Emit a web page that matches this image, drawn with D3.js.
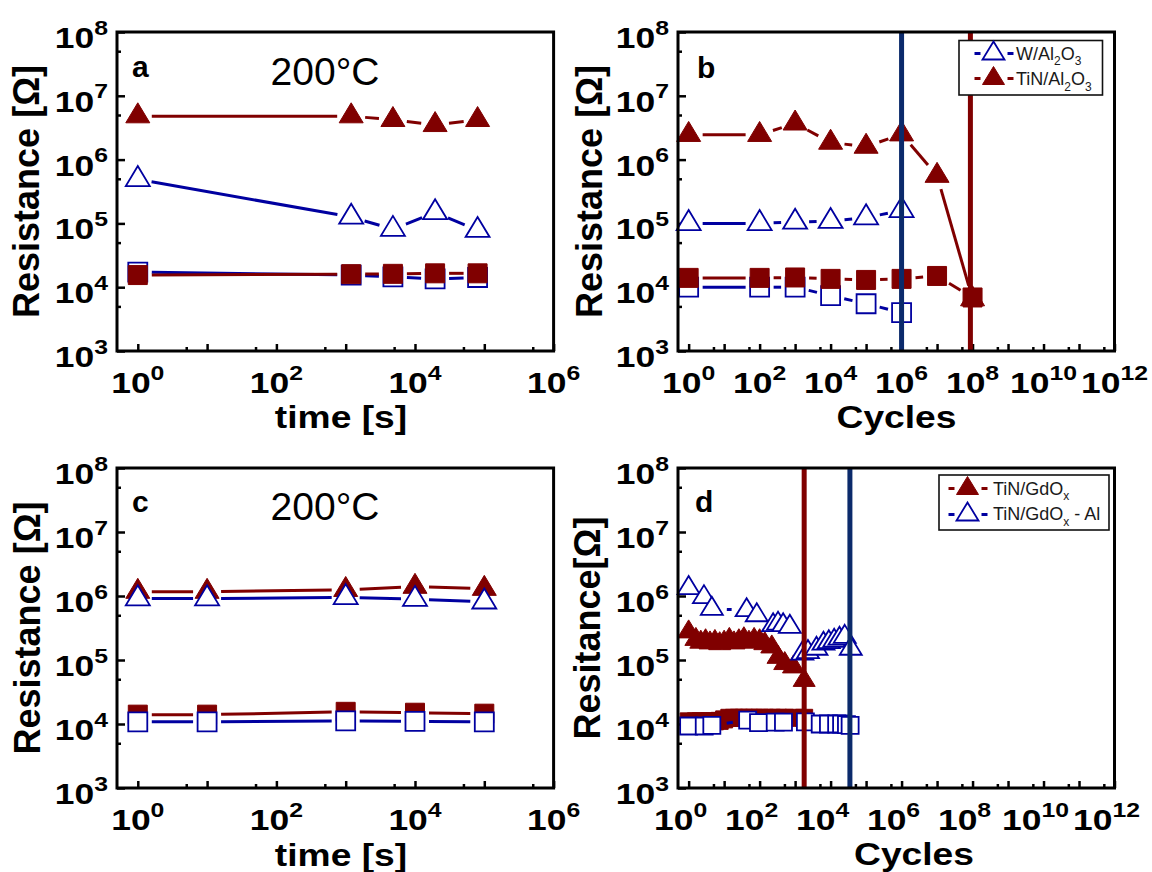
<!DOCTYPE html>
<html><head><meta charset="utf-8">
<script src="https://cdn.jsdelivr.net/npm/d3@7"></script>
<style>body{margin:0;background:#fff} svg{display:block} text{font-family:"Liberation Sans",Arial,sans-serif;}</style>
</head><body>
<svg id="chart" width="1152" height="872"></svg>
<script>
// ---------- DATA ----------
// panel a : retention at 200°C (time in s)
const aTime    = [1, 1200, 4800, 19500, 80000];
const aW_HRS   = [4.9e5, 1.26e5, 8.1e4, 1.48e5, 7.8e4];
const aW_LRS   = [1.72e4, 1.55e4, 1.45e4, 1.35e4, 1.42e4];
const aTiN_HRS = [4.8e6, 4.8e6, 4.2e6, 3.5e6, 4.2e6];
const aTiN_LRS = [1.55e4, 1.6e4, 1.62e4, 1.65e4, 1.65e4];
// panel b : endurance
const bW_Cycles   = [1, 1e2, 1e3, 1e4, 1e5, 1e6];
const bW_HRS      = [1.0e5, 1.0e5, 1.05e5, 1.08e5, 1.23e5, 1.6e5];
const bW_LRS      = [1.0e4, 1.0e4, 1.0e4, 7.4e3, 5.5e3, 4.0e3];
const bTiN_Cycles = [1, 1e2, 1e3, 1e4, 1e5, 1e6, 1e7, 1e8];
const bTiN_HRS    = [2.45e6, 2.45e6, 3.7e6, 1.85e6, 1.6e6, 2.5e6, 5.6e5, 6.5e3];
const bTiN_LRS    = [1.4e4, 1.4e4, 1.42e4, 1.35e4, 1.3e4, 1.35e4, 1.5e4, 6.9e3];
const bFail_W = 1e6, bFail_TiN = 8.7e7;
// panel c : retention at 200°C
const cTime    = [1, 10, 1000, 1e4, 1e5];
const cTiN_HRS = [1.17e6, 1.17e6, 1.25e6, 1.4e6, 1.3e6];
const cTiN_LRS = [1.4e4, 1.4e4, 1.55e4, 1.5e4, 1.45e4];
const cW_HRS   = [9.1e5, 9.1e5, 9.5e5, 8.9e5, 8.1e5];
const cW_LRS   = [1.08e4, 1.08e4, 1.12e4, 1.1e4, 1.08e4];
// panel d : endurance GdOx
const dTiN_Cycles = [1, 1.6, 2.2, 3, 4, 5.5, 7.5, 10, 14, 19, 26, 36, 50, 70, 100, 140, 220, 330, 510, 900, 1800];
const dTiN_HRS    = [2.75e5, 2.1e5, 1.9e5, 2.0e5, 1.85e5, 1.95e5, 1.8e5, 1.9e5, 2.1e5, 1.85e5, 2.0e5, 2.15e5, 1.9e5, 2.1e5, 2.0e5, 1.8e5, 1.6e5, 1.1e5, 8.8e4, 7.8e4, 4.8e4];
const dTiN_LRS    = [1.1e4, 1.1e4, 1.1e4, 1.1e4, 1.1e4, 1.1e4, 1.12e4, 1.18e4, 1.25e4, 1.25e4, 1.25e4, 1.25e4, 1.25e4, 1.25e4, 1.25e4, 1.25e4, 1.25e4, 1.25e4, 1.25e4, 1.25e4, 1.25e4];
const dAl_TriCycles = [1, 2.7, 4.5, 43, 83, 240, 330, 460, 710, 1600, 2300, 4000, 6300, 8900, 12600, 17800, 25000, 37000];
const dAl_HRS       = [1.33e6, 9.6e5, 6.3e5, 6.0e5, 5.0e5, 3.5e5, 3.7e5, 3.5e5, 3.3e5, 1.26e5, 1.33e5, 1.5e5, 1.8e5, 1.9e5, 2.0e5, 2.15e5, 2.3e5, 1.5e5];
const dAl_SqCycles  = [1, 2.75, 4.5, 46, 93, 275, 470, 1950, 5100, 8700, 14800, 20400, 28000, 35500];
const dAl_LRS       = [9.3e3, 9.3e3, 9.5e3, 1.15e4, 1.05e4, 1.07e4, 1.07e4, 1.08e4, 1.0e4, 1.0e4, 1.0e4, 1.0e4, 9.8e3, 9.5e3];
const dFail_TiN = 1800, dFail_Al = 35000;
// tick labels (exponents)
const timeTickExp  = [0, 2, 4, 6];
const cycleTickExp = [0, 2, 4, 6, 8, 10, 12];
const resTickExp   = [3, 4, 5, 6, 7, 8];

// ---------- DRAWING ----------
const RED = '#800000', BLUE = '#0000a0', NAVY = '#0b2a6b';
const svg = d3.select('#chart');

function makePanel(cfg) {
  const x = d3.scaleLog().domain([Math.pow(10, -0.3), Math.pow(10, cfg.maxExp)]).range([cfg.left, cfg.right]);
  const y = d3.scaleLog().domain([1e3, 1e8]).range([cfg.bottom, cfg.top]);
  const g = svg.append('g');
  const P = {x, y, g, cfg};
  const xMajor = d3.range(0, cfg.maxExp + 1).map(e => Math.pow(10, e));
  const xMinor = d3.range(0, cfg.maxExp).map(e => 5 * Math.pow(10, e));
  const yMajor = d3.range(3, 9).map(e => Math.pow(10, e));
  const yMinor = d3.range(3, 8).map(e => 5 * Math.pow(10, e));
  const style = s => s.call(a => a.select('.domain').remove())
    .call(a => a.selectAll('line').attr('stroke', '#000').attr('stroke-width', 2.5));
  g.append('g').attr('transform', `translate(0,${cfg.bottom})`)
    .call(d3.axisBottom(x).tickValues(xMajor).tickSize(-7).tickFormat('')).call(style);
  g.append('g').attr('transform', `translate(0,${cfg.bottom})`)
    .call(d3.axisBottom(x).tickValues(xMinor).tickSize(-4).tickFormat('')).call(style);
  g.append('g').attr('transform', `translate(${cfg.left},0)`)
    .call(d3.axisLeft(y).tickValues(yMajor).tickSize(-8).tickFormat('')).call(style);
  g.append('g').attr('transform', `translate(${cfg.left},0)`)
    .call(d3.axisLeft(y).tickValues(yMinor).tickSize(-4).tickFormat('')).call(style);
  cfg.xExp.forEach(e => expLabel(g, x(Math.pow(10, e)) + (cfg.xLabShift || 0), cfg.bottom + 42, e, 'middle'));
  resTickExp.forEach(e => expLabel(g, cfg.left - 9, y(Math.pow(10, e)) + 16, e, 'end'));
  g.append('text').attr('transform', `translate(${cfg.xTitleX},${cfg.xTitleY}) scale(1.2,1)`)
    .attr('text-anchor', 'middle').attr('font-weight', 'bold').attr('font-size', 31).text(cfg.xTitle);
  g.append('text').attr('transform', `translate(${cfg.yTitleX},${(cfg.top + cfg.bottom) / 2}) rotate(-90)`)
    .attr('text-anchor', 'middle').attr('font-weight', 'bold').attr('font-size', 36).text(cfg.yTitle);
  g.append('text').attr('x', cfg.letterX).attr('y', cfg.letterY).attr('font-weight', 'bold')
    .attr('font-size', 30).text(cfg.letter);
  if (cfg.temp) g.append('text').attr('x', cfg.tempX).attr('y', cfg.tempY).attr('text-anchor', 'middle')
    .attr('font-size', 39).text(cfg.temp);
  return P;
}

function expLabel(g, x, y, e, anchor) {
  const t = g.append('text').attr('transform', `translate(${x},${y}) scale(1.18,1)`)
    .attr('text-anchor', anchor).attr('font-weight', 'bold').attr('font-size', 30).attr('fill', '#000');
  t.append('tspan').text('10');
  t.append('tspan').attr('font-size', 21).attr('dy', -13.5).text(e);
}

function triPath(w, h) { return `M0,${-2 * h / 3}L${w / 2},${h / 3}L${-w / 2},${h / 3}Z`; }
function sqPath(s) { return `M${-s / 2},${-s / 2}h${s}v${s}h${-s}Z`; }

function drawSeries(P, xs, ys, st) {
  const pts = xs.map((v, i) => [P.x(v), P.y(ys[i])]);
  const segs = [];
  for (let i = 0; i < pts.length - 1; i++) {
    const [x1, y1] = pts[i], [x2, y2] = pts[i + 1];
    const L = Math.hypot(x2 - x1, y2 - y1);
    if (L > 2 * st.gap + 1) {
      const ux = (x2 - x1) / L, uy = (y2 - y1) / L;
      segs.push([[x1 + ux * st.gap, y1 + uy * st.gap], [x2 - ux * st.gap, y2 - uy * st.gap]]);
    }
  }
  const line = d3.line();
  P.g.append('g').selectAll('path').data(segs).join('path').attr('d', d => line(d))
    .attr('stroke', st.color).attr('stroke-width', 3).attr('fill', 'none');
  P.g.append('g').selectAll('path').data(pts).join('path')
    .attr('transform', d => `translate(${d[0]},${d[1]})`)
    .attr('d', st.shape === 'tri' ? triPath(st.w, st.h) : sqPath(st.s))
    .attr('fill', st.filled ? st.color : '#fff')
    .attr('stroke', st.color).attr('stroke-width', st.filled ? 1 : 1.8);
}

function vline(P, v, color) {
  P.g.append('line').attr('x1', P.x(v)).attr('x2', P.x(v)).attr('y1', P.cfg.top).attr('y2', P.cfg.bottom)
    .attr('stroke', color).attr('stroke-width', 5);
}

function frame(P) {
  const c = P.cfg;
  P.g.append('rect').attr('x', c.left).attr('y', c.top).attr('width', c.right - c.left).attr('height', c.bottom - c.top)
    .attr('fill', 'none').attr('stroke', '#000').attr('stroke-width', 3);
}

function legend(P, box, rows) {
  const g = P.g.append('g');
  g.append('rect').attr('x', box.x).attr('y', box.y).attr('width', box.w).attr('height', box.h)
    .attr('fill', '#fff').attr('stroke', '#111').attr('stroke-width', 1.6);
  rows.forEach(r => {
    g.append('line').attr('x1', box.sx - 19).attr('x2', box.sx - 13).attr('y1', r.y).attr('y2', r.y)
      .attr('stroke', r.color).attr('stroke-width', 3);
    g.append('line').attr('x1', box.sx + 14).attr('x2', box.sx + 20).attr('y1', r.y).attr('y2', r.y)
      .attr('stroke', r.color).attr('stroke-width', 3);
    g.append('path').attr('transform', `translate(${box.sx},${r.y})`).attr('d', triPath(22, 18))
      .attr('fill', r.filled ? r.color : '#fff').attr('stroke', r.color).attr('stroke-width', r.filled ? 1 : 1.8);
    const t = g.append('text').attr('x', box.tx).attr('y', r.base).attr('font-size', 18).attr('fill', '#1a1a1a');
    r.parts.forEach(p => {
      if (p[1] === 'sub') t.append('tspan').attr('font-size', 12).attr('dy', 5.5).text(p[0]);
      else t.append('tspan').attr('dy', p[2] || 0).text(p[0]);
    });
  });
}

// ----- panel a -----
const A = makePanel({left: 117, right: 553.6, top: 32, bottom: 351, maxExp: 6, xExp: timeTickExp,
  xTitle: 'time [s]', xTitleX: 341, xTitleY: 428, yTitle: 'Resistance [Ω]', yTitleX: 39,
  letter: 'a', letterX: 132, letterY: 77, temp: '200°C', tempX: 325, tempY: 85});
const stTri = c => ({shape: 'tri', w: 24, h: 20, gap: 14, color: c});
const stSq = c => ({shape: 'sq', s: 19, gap: 14, color: c});
drawSeries(A, aTime, aW_HRS, {...stTri(BLUE), filled: false});
drawSeries(A, aTime, aW_LRS, {...stSq(BLUE), filled: false});
drawSeries(A, aTime, aTiN_HRS, {...stTri(RED), filled: true});
drawSeries(A, aTime, aTiN_LRS, {...stSq(RED), filled: true});
frame(A);

// ----- panel b -----
const B = makePanel({left: 678, right: 1114.5, top: 32, bottom: 351, maxExp: 12, xExp: cycleTickExp,
  xTitle: 'Cycles', xTitleX: 896.5, xTitleY: 427.5, yTitle: 'Resistance [Ω]', yTitleX: 602,
  letter: 'b', letterX: 697, letterY: 78});
drawSeries(B, bW_Cycles, bW_HRS, {...stTri(BLUE), filled: false});
drawSeries(B, bW_Cycles, bW_LRS, {...stSq(BLUE), filled: false});
drawSeries(B, bTiN_Cycles, bTiN_HRS, {...stTri(RED), filled: true});
drawSeries(B, bTiN_Cycles, bTiN_LRS, {...stSq(RED), filled: true});
vline(B, bFail_W, NAVY);
vline(B, bFail_TiN, RED);
frame(B);
legend(B, {x: 959, y: 40.5, w: 143.5, h: 54.5, sx: 993.5, tx: 1016}, [
  {y: 53.5, base: 59.5, color: BLUE, filled: false, parts: [['W/Al'], ['2', 'sub'], ['O', 'n', -5.5], ['3', 'sub']]},
  {y: 78.5, base: 85, color: RED, filled: true, parts: [['TiN/Al'], ['2', 'sub'], ['O', 'n', -5.5], ['3', 'sub']]}
]);

// ----- panel c -----
const C = makePanel({left: 117, right: 553.6, top: 468, bottom: 788, maxExp: 6, xExp: timeTickExp,
  xTitle: 'time [s]', xTitleX: 341, xTitleY: 866, yTitle: 'Resistance [Ω]', yTitleX: 40,
  letter: 'c', letterX: 132, letterY: 511.5, temp: '200°C', tempX: 325, tempY: 520});
drawSeries(C, cTime, cTiN_HRS, {...stTri(RED), filled: true});
drawSeries(C, cTime, cTiN_LRS, {...stSq(RED), filled: true});
drawSeries(C, cTime, cW_HRS, {...stTri(BLUE), filled: false});
drawSeries(C, cTime, cW_LRS, {...stSq(BLUE), filled: false});
frame(C);

// ----- panel d -----
const D = makePanel({left: 678, right: 1114.5, top: 468, bottom: 788, maxExp: 12, xExp: cycleTickExp, xLabShift: -8,
  xTitle: 'Cycles', xTitleX: 914, xTitleY: 865, yTitle: 'Resitance[Ω]', yTitleX: 600,
  letter: 'd', letterX: 695, letterY: 511.5});
const dTri = c => ({shape: 'tri', w: 22, h: 18, gap: 15, color: c});
const dSq = c => ({shape: 'sq', s: 17, gap: 15, color: c});
drawSeries(D, dTiN_Cycles, dTiN_HRS, {...dTri(RED), filled: true});
drawSeries(D, dTiN_Cycles, dTiN_LRS, {...dSq(RED), filled: true});
drawSeries(D, dAl_TriCycles, dAl_HRS, {...dTri(BLUE), filled: false});
drawSeries(D, dAl_SqCycles, dAl_LRS, {...dSq(BLUE), filled: false});
vline(D, dFail_TiN, RED);
vline(D, dFail_Al, NAVY);
frame(D);
legend(D, {x: 939, y: 475, w: 170, h: 55, sx: 967.5, tx: 993}, [
  {y: 488.5, base: 494.5, color: RED, filled: true, parts: [['TiN/GdO'], ['x', 'sub']]},
  {y: 514.5, base: 520, color: BLUE, filled: false, parts: [['TiN/GdO'], ['x', 'sub'], [' - Al', 'n', -5.5]]}
]);
</script>
</body></html>
